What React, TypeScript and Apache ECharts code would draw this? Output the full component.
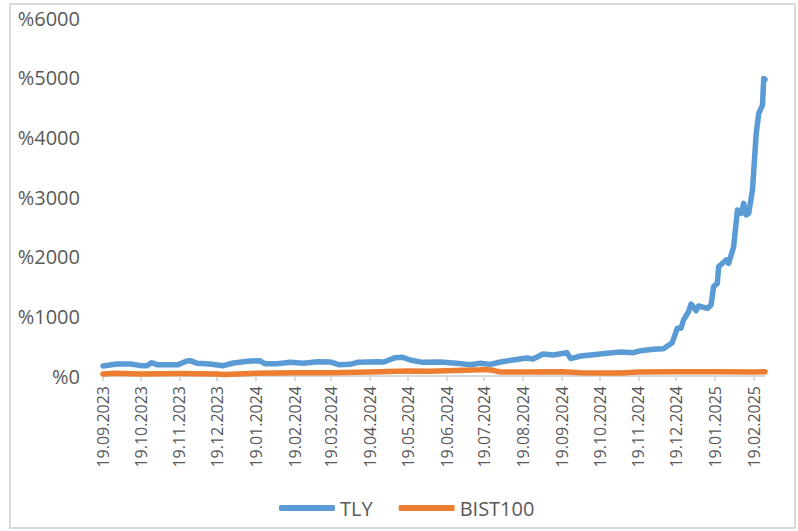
import React, { useEffect, useRef } from "react";
import * as echarts from "echarts";

const tickLabels = [
  "19.09.2023", "19.10.2023", "19.11.2023", "19.12.2023", "19.01.2024", "19.02.2024",
  "19.03.2024", "19.04.2024", "19.05.2024", "19.06.2024", "19.07.2024", "19.08.2024",
  "19.09.2024", "19.10.2024", "19.11.2024", "19.12.2024", "19.01.2025", "19.02.2025",
];

const tlyDates = [
  "2023-09-19", "2023-09-30", "2023-10-11", "2023-10-18", "2023-10-24", "2023-10-28",
  "2023-11-01", "2023-11-11", "2023-11-18", "2023-11-25", "2023-11-28", "2023-12-03",
  "2023-12-13", "2023-12-24", "2024-01-01", "2024-01-12", "2024-01-22", "2024-01-26",
  "2024-02-05", "2024-02-15", "2024-02-26", "2024-03-08", "2024-03-18", "2024-03-25",
  "2024-04-03", "2024-04-09", "2024-04-25", "2024-04-30", "2024-05-09", "2024-05-15",
  "2024-05-21", "2024-05-31", "2024-06-14", "2024-06-27", "2024-07-08", "2024-07-16",
  "2024-07-24", "2024-08-01", "2024-08-11", "2024-08-22", "2024-08-27", "2024-09-04",
  "2024-09-12", "2024-09-23", "2024-09-26", "2024-10-04", "2024-10-14", "2024-10-25",
  "2024-11-05", "2024-11-15", "2024-11-21", "2024-12-01", "2024-12-09", "2024-12-16",
  "2024-12-20", "2024-12-23", "2024-12-25", "2024-12-29", "2024-12-31", "2025-01-04",
  "2025-01-06", "2025-01-13", "2025-01-16", "2025-01-18", "2025-01-21", "2025-01-22",
  "2025-01-28", "2025-01-30", "2025-02-03", "2025-02-06", "2025-02-09", "2025-02-11",
  "2025-02-13", "2025-02-15", "2025-02-18", "2025-02-21", "2025-02-23", "2025-02-26",
  "2025-02-27", "2025-02-28",
];
const tlyValues = [
  168, 200, 200, 178, 173, 223,
  190, 190, 190, 251, 257, 212,
  200, 173, 218, 246, 257, 207,
  207, 229, 212, 240, 235, 190,
  196, 229, 240, 235, 307, 313,
  268, 229, 235, 212, 190, 212,
  195, 235, 268, 302, 285, 369,
  352, 391, 291, 335, 357, 380,
  402, 391, 424, 447, 458, 558,
  799, 799, 938, 1077, 1207, 1094,
  1173, 1134, 1190, 1497, 1553, 1832,
  1944, 1888, 2167, 2782, 2726, 2894,
  2698, 2726, 3117, 4067, 4402, 4541,
  4988, 4970,
];

const bistDates = [
  "2023-09-19", "2023-09-29", "2023-10-18", "2023-11-19", "2023-12-19", "2023-12-25",
  "2024-01-19", "2024-02-19", "2024-03-19", "2024-04-19", "2024-05-19", "2024-06-06",
  "2024-06-19", "2024-07-16", "2024-07-19", "2024-07-26", "2024-08-01", "2024-08-19",
  "2024-09-19", "2024-10-04", "2024-10-20", "2024-11-05", "2024-11-19", "2024-12-19",
  "2025-01-19", "2025-02-19", "2025-02-28",
];
const bistValues = [
  35, 45, 34, 40, 34, 25,
  45, 56, 56, 67, 84, 78,
  90, 105, 110, 95, 67, 67,
  73, 56, 50, 50, 67, 73,
  73, 67, 73,
];

function parseLabel(s: string): number {
  const [d, m, y] = s.split(".").map(Number);
  return new Date(y, m - 1, d).getTime();
}
function parseIso(s: string): number {
  const [y, m, d] = s.split("-").map(Number);
  return new Date(y, m - 1, d).getTime();
}
function fmt(v: number): string {
  const dt = new Date(v);
  const dd = String(dt.getDate()).padStart(2, "0");
  const mm = String(dt.getMonth() + 1).padStart(2, "0");
  return `${dd}.${mm}.${dt.getFullYear()}`;
}

export default function App() {
  const ref = useRef<HTMLDivElement>(null);
  useEffect(() => {
    if (!ref.current) return;
    const chart = echarts.init(ref.current, undefined, { renderer: "svg" });
    const ticks = tickLabels.map(parseLabel);
    const font = "'Open Sans', 'Noto Sans', sans-serif";
    chart.setOption({
      animation: false,
      backgroundColor: "#ffffff",
      grid: { left: 103, right: 33, top: 18, bottom: 155 },
      xAxis: {
        type: "value",
        min: parseIso(tlyDates[0]),
        max: parseIso(tlyDates[tlyDates.length - 1]),
        axisLine: { show: true, lineStyle: { color: "#D9D9D9", width: 2 } },
        axisTick: {
          show: true,
          length: 5,
          lineStyle: { color: "#D9D9D9", width: 2 },
          customValues: ticks,
        },
        axisLabel: {
          customValues: ticks,
          rotate: 90,
          fontSize: 16,
          color: "#595959",
          fontFamily: font,
          margin: 10,
          formatter: (v: number) => fmt(v),
        },
        splitLine: { show: false },
      },
      yAxis: {
        type: "value",
        min: 0,
        max: 6000,
        interval: 1000,
        axisLine: { show: false },
        axisTick: { show: false },
        splitLine: { show: false },
        axisLabel: {
          fontSize: 20,
          color: "#595959",
          fontFamily: font,
          margin: 23,
          formatter: (v: number) => "%" + v,
        },
      },
      legend: {
        left: 279,
        top: 498,
        padding: 0,
        icon: "roundRect",
        itemWidth: 56,
        itemHeight: 6,
        itemGap: 26,
        textStyle: { fontSize: 20, color: "#595959", fontFamily: font },
        data: ["TLY", "BIST100"],
      },
      graphic: [
        {
          type: "rect",
          shape: { x: 10, y: 4, width: 785, height: 524 },
          style: { fill: "none", stroke: "#D9D9D9", lineWidth: 2 },
          silent: true,
        },
      ],
      series: [
        {
          name: "TLY",
          type: "line",
          data: tlyDates.map((d, i) => [parseIso(d), tlyValues[i]]),
          showSymbol: false,
          symbol: "none",
          lineStyle: { color: "#5B9BD5", width: 5.5, cap: "round", join: "round" },
          itemStyle: { color: "#5B9BD5" },
        },
        {
          name: "BIST100",
          type: "line",
          data: bistDates.map((d, i) => [parseIso(d), bistValues[i]]),
          showSymbol: false,
          symbol: "none",
          lineStyle: { color: "#ED7D31", width: 5.5, cap: "round", join: "round" },
          itemStyle: { color: "#ED7D31" },
        },
      ],
    });
    return () => chart.dispose();
  }, []);
  return (
    <div
      ref={ref}
      style={{ position: "absolute", left: 0, top: 0, width: 798, height: 531 }}
    />
  );
}
